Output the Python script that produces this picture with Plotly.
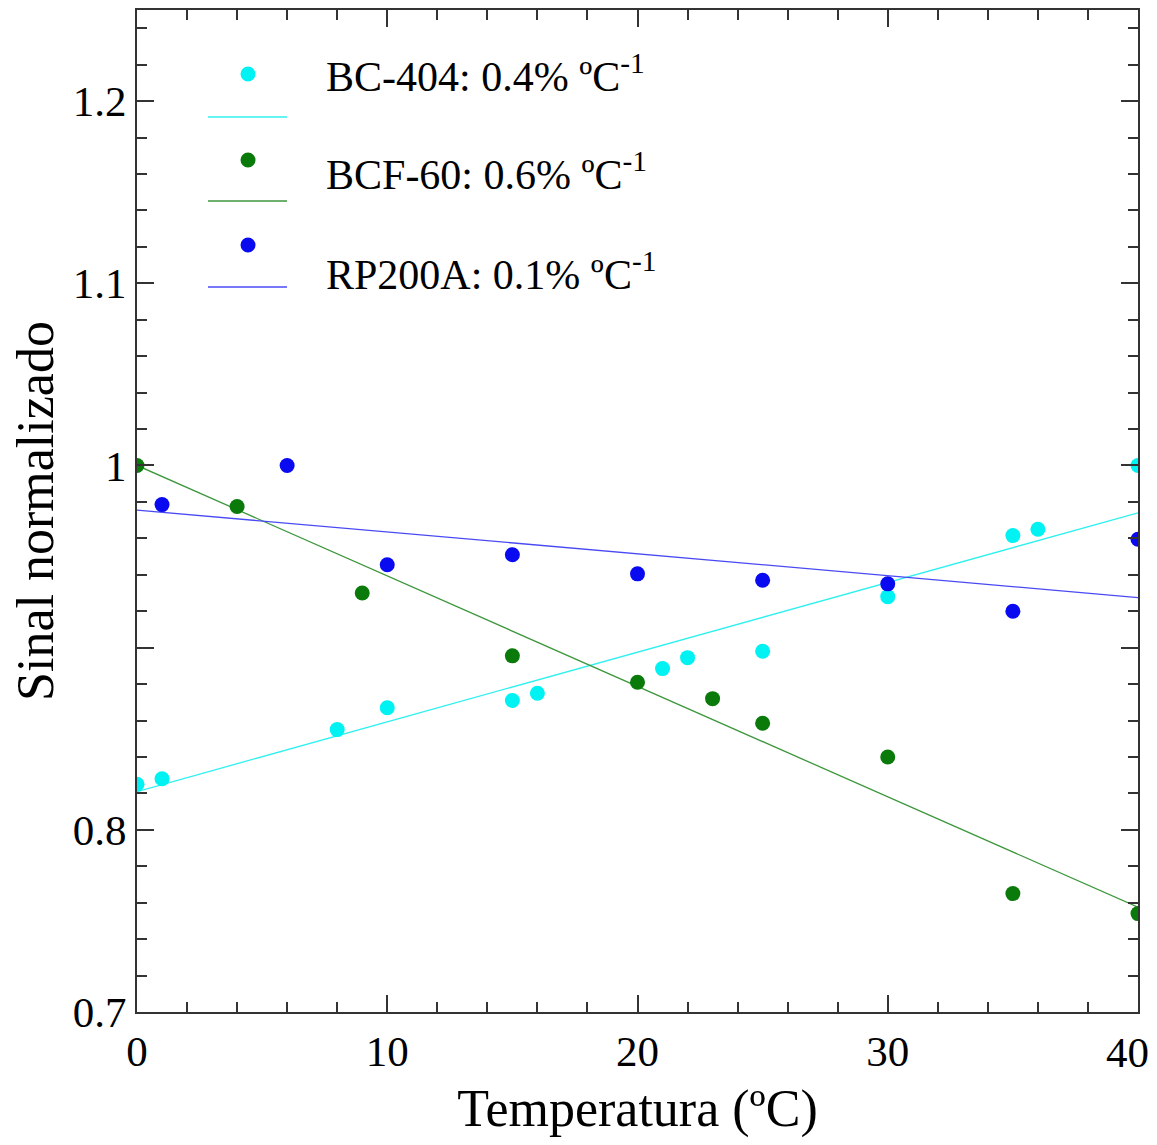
import plotly.graph_objects as go

# ---- data ----
temp_bc404 = [0, 1, 8, 10, 15, 16, 21, 22, 25, 30, 35, 36, 40]
sig_bc404 = [0.825, 0.828, 0.855, 0.867, 0.871, 0.875, 0.8885, 0.8945, 0.898, 0.928, 0.9615, 0.965, 1.0]

temp_bcf60 = [0, 4, 9, 15, 20, 23, 25, 30, 35, 40]
sig_bcf60 = [1.0, 0.9775, 0.930, 0.8955, 0.881, 0.872, 0.8585, 0.840, 0.765, 0.754]

temp_rp200a = [1, 6, 10, 15, 20, 25, 30, 35, 40]
sig_rp200a = [0.9785, 1.0, 0.9455, 0.951, 0.9405, 0.937, 0.935, 0.920, 0.9595]

fit_x = [0, 40]
fit_bc404 = [0.821, 0.974]
fit_bcf60 = [1.0, 0.7575]
fit_rp200a = [0.9755, 0.9275]

series_labels = ["BC-404: 0.4% ºC<sup>-1</sup>",
                 "BCF-60: 0.6% ºC<sup>-1</sup>",
                 "RP200A: 0.1% ºC<sup>-1</sup>"]

y_tickvals = [0.7, 0.8, 0.9, 1.0, 1.1, 1.2]
y_ticktext = ["0.7", "0.8", "", "1", "1.1", "1.2"]
x_tickvals = [0, 10, 20, 30, 40]
x_ticktext = ["0", "10", "20", "30", ""]   # last label drawn below, nudged inward as in the reference
x_last_label = "40"

# ---- styles ----
marker_colors = ["#00f2f2", "#0a7a0a", "#0a0af0"]
line_colors = ["#30f0f0", "#3c963c", "#4a4af4"]
FONT = "Liberation Serif"
AX = "#333333"
TICK_SIZE = 43

W, H = 1157, 1145
L, R, T, B = 137, 19, 10, 133
PW, PH = W - L - R, H - T - B


def px2paper_x(px):
    return (px - L) / PW


def px2paper_y(py):
    return (H - B - py) / PH


fig = go.Figure()

fits = [fit_bc404, fit_bcf60, fit_rp200a]
for fy, c in zip(fits, line_colors):
    fig.add_trace(go.Scatter(x=fit_x, y=fy, mode="lines",
                             line=dict(color=c, width=1.3),
                             showlegend=False, hoverinfo="skip"))

pts = [(temp_bc404, sig_bc404), (temp_bcf60, sig_bcf60), (temp_rp200a, sig_rp200a)]
for (xs, ys), c, lab in zip(pts, marker_colors, series_labels):
    fig.add_trace(go.Scatter(x=xs, y=ys, mode="markers",
                             marker=dict(color=c, size=15, line=dict(width=0)),
                             name=lab, showlegend=False, cliponaxis=True))

# ---- hand-built legend (marker row, then line row) ----
marker_rows = [74, 160, 245]
line_rows = [117, 201, 287]
text_rows = [73, 171, 271]
for i in range(3):
    xm = px2paper_x(248)
    ym = px2paper_y(marker_rows[i])
    fig.add_shape(type="circle", xref="paper", yref="paper",
                  xsizemode="pixel", ysizemode="pixel",
                  xanchor=xm, yanchor=ym, x0=-7.5, x1=7.5, y0=-7.5, y1=7.5,
                  fillcolor=marker_colors[i], line=dict(width=0))
    yl = px2paper_y(line_rows[i])
    fig.add_shape(type="line", xref="paper", yref="paper",
                  x0=px2paper_x(208), x1=px2paper_x(287), y0=yl, y1=yl,
                  line=dict(color=line_colors[i], width=1.6))
    fig.add_annotation(xref="paper", yref="paper", x=px2paper_x(324),
                       y=px2paper_y(text_rows[i]), xanchor="left", yanchor="middle",
                       text=series_labels[i], showarrow=False,
                       font=dict(family=FONT, size=42, color="black"))

# last x tick label, nudged left so it stays inside the figure
fig.add_annotation(xref="x", yref="paper", x=x_tickvals[-1], y=0, yshift=-15,
                   xshift=-11, xanchor="center", yanchor="top", showarrow=False,
                   text=x_last_label, font=dict(family=FONT, size=TICK_SIZE, color="black"))

fig.update_layout(
    width=W, height=H,
    margin=dict(l=L, r=R, t=T, b=B, pad=0, autoexpand=False),
    paper_bgcolor="white", plot_bgcolor="white",
    showlegend=False,
    font=dict(family=FONT, color="black"),
)

fig.update_xaxes(
    range=[0, 40], tickvals=x_tickvals, ticktext=x_ticktext, ticks="inside", ticklen=17, tickwidth=2,
    tickcolor=AX, showline=True, linecolor=AX, linewidth=2, mirror="ticks",
    showgrid=False, zeroline=False, automargin=False,
    tickfont=dict(family=FONT, size=TICK_SIZE, color="black"),
    minor=dict(dtick=2, ticks="inside", ticklen=10, tickwidth=2, tickcolor=AX, showgrid=False),
    title=dict(text="Temperatura (ºC)", font=dict(family=FONT, size=52, color="black"), standoff=16),
)
fig.update_yaxes(
    range=[0.7, 1.25], tickvals=y_tickvals, ticktext=y_ticktext, ticks="inside",
    ticklen=17, tickwidth=2, tickcolor=AX, showline=True, linecolor=AX, linewidth=2,
    mirror="ticks", showgrid=False, zeroline=False, automargin=False,
    tickfont=dict(family=FONT, size=TICK_SIZE, color="black"),
    minor=dict(dtick=0.02, tick0=0.7, ticks="inside", ticklen=10, tickwidth=2, tickcolor=AX, showgrid=False),
    title=dict(text="Sinal normalizado", font=dict(family=FONT, size=52, color="black"), standoff=2),
)

fig.write_html("out.html")
